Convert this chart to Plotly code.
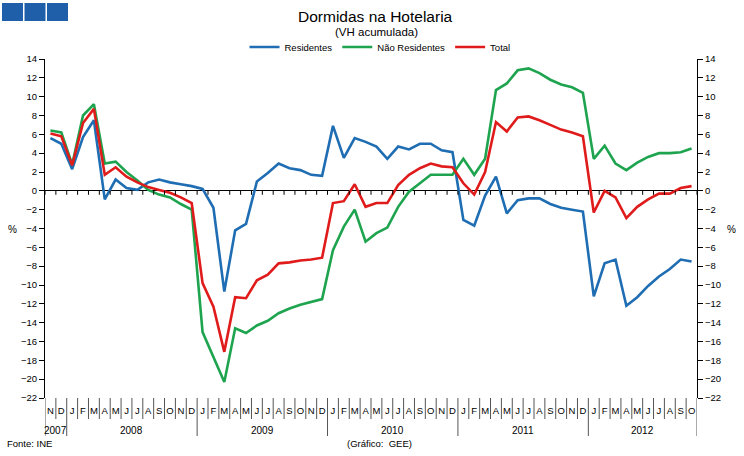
import plotly.graph_objects as go

# ---------------- data ----------------
months = ["N", "D"] + ["J", "F", "M", "A", "M", "J", "J", "A", "S", "O", "N", "D"] * 4 + \
         ["J", "F", "M", "A", "M", "J", "J", "A", "S", "O"]
years = [2007] * 2 + [2008] * 12 + [2009] * 12 + [2010] * 12 + [2011] * 12 + [2012] * 10
year_labels = [2007, 2008, 2009, 2010, 2011, 2012]

residentes = [5.6, 5.0, 2.3, 5.7, 7.5, -0.9, 1.2, 0.3, 0.1, 0.9, 1.2, 0.9, 0.7, 0.5,
              0.2, -1.8, -10.7, -4.2, -3.5, 1.0, 1.9, 2.9, 2.4, 2.2, 1.7, 1.6,
              6.9, 3.5, 5.6, 5.2, 4.7, 3.4, 4.7, 4.4, 5.0, 5.0, 4.3, 4.1,
              -3.1, -3.7, -0.5, 1.5, -2.4, -1.0, -0.8, -0.8, -1.4, -1.8, -2.0, -2.2,
              -11.2, -7.7, -7.3, -12.2, -11.3, -10.1, -9.1, -8.3, -7.3, -7.5]
nao_residentes = [6.4, 6.2, 2.8, 8.0, 9.2, 2.9, 3.1, 2.0, 1.1, 0.1, -0.4, -0.7, -1.4, -2.0,
                  -15.0, -17.7, -20.3, -14.6, -15.1, -14.3, -13.8, -13.0, -12.5, -12.1, -11.8, -11.5,
                  -6.3, -3.8, -2.0, -5.4, -4.5, -3.9, -1.7, -0.1, 0.8, 1.7, 1.7, 1.7,
                  3.4, 1.7, 3.4, 10.7, 11.4, 12.8, 13.0, 12.5, 11.8, 11.3, 11.0, 10.4,
                  3.4, 4.8, 2.9, 2.2, 3.0, 3.6, 4.0, 4.0, 4.1, 4.5]
total = [6.1, 5.8, 2.7, 7.2, 8.7, 1.7, 2.5, 1.5, 0.9, 0.4, 0.1, -0.2, -0.7, -1.3,
         -9.8, -12.3, -17.1, -11.3, -11.4, -9.5, -8.9, -7.7, -7.6, -7.4, -7.3, -7.1,
         -1.3, -1.1, 0.7, -1.7, -1.3, -1.3, 0.6, 1.7, 2.4, 2.9, 2.6, 2.5,
         0.8, -0.4, 2.0, 7.3, 6.3, 7.8, 7.9, 7.5, 7.0, 6.5, 6.2, 5.8,
         -2.3, 0.0, -0.7, -2.9, -1.7, -0.9, -0.3, -0.3, 0.3, 0.5]

series_names = ["Residentes", "Não Residentes", "Total"]
colors = ["#1f6db2", "#1ea44f", "#e01b1b"]

# ---------------- geometry helpers (pixel -> paper) ----------------
W, H = 744, 456
PL, PR, PT, PB = 45, 697, 59, 398
PW, PH = PR - PL, PB - PT


def px(xpix):
    return (xpix - PL) / PW


def py(ypix):
    return (PB - ypix) / PH


x = list(range(len(months)))

fig = go.Figure()
for name, vals, col in zip(series_names, [residentes, nao_residentes, total], colors):
    fig.add_trace(go.Scatter(x=x, y=vals, mode="lines", name=name,
                             line=dict(color=col, width=2.6), hoverinfo="x+y+name"))
# invisible trace to activate the right-hand axis
fig.add_trace(go.Scatter(x=x, y=total, yaxis="y2", mode="lines", line=dict(width=0),
                         opacity=0, showlegend=False, hoverinfo="skip"))

shapes = []
# small ticks on zero line at each month boundary
for b in range(len(months) + 1):
    shapes.append(dict(type="line", xref="x", yref="y", x0=b - 0.5, x1=b - 0.5,
                       y0=0, y1=-0.42, line=dict(color="#000", width=1)))
# month separators below the plot
for b in range(1, len(months)):
    is_year = years[b] != years[b - 1]
    shapes.append(dict(type="line", xref="x", yref="paper", x0=b - 0.5, x1=b - 0.5,
                       y0=0, y1=py(436) if is_year else py(419),
                       line=dict(color="#555", width=1)))
# outer edges
for b in (-0.5, len(months) - 0.5):
    shapes.append(dict(type="line", xref="x", yref="paper", x0=b, x1=b,
                       y0=0, y1=py(436), line=dict(color="#555", width=1)))

# logo squares (decoration)
for left in (2, 24.5, 47):
    shapes.append(dict(type="rect", xref="paper", yref="paper",
                       x0=px(left), x1=px(left + 21), y0=py(21), y1=py(3),
                       fillcolor="#1f5ea8", line=dict(width=0)))

annotations = [
    dict(text="Dormidas na Hotelaria", x=px(376), y=py(16), xref="paper", yref="paper",
         showarrow=False, font=dict(size=15.5, color="#000"), xanchor="center", yanchor="middle"),
    dict(text="(VH acumulada)", x=px(377), y=py(32), xref="paper", yref="paper",
         showarrow=False, font=dict(size=11.5, color="#000"), xanchor="center", yanchor="middle"),
    dict(text="%", x=px(12), y=py(229), xref="paper", yref="paper", showarrow=False,
         font=dict(size=10, color="#000"), xanchor="center", yanchor="middle"),
    dict(text="%", x=px(731), y=py(229), xref="paper", yref="paper", showarrow=False,
         font=dict(size=10, color="#000"), xanchor="center", yanchor="middle"),
    dict(text="Fonte: INE", x=px(5), y=py(444), xref="paper", yref="paper", showarrow=False,
         font=dict(size=9.5, color="#000"), xanchor="left", yanchor="middle"),
    dict(text="(Gráfico:  GEE)", x=px(379), y=py(444), xref="paper", yref="paper", showarrow=False,
         font=dict(size=9.5, color="#000"), xanchor="center", yanchor="middle"),
]
# year labels centred under their month groups
for yv in year_labels:
    idx = [i for i, yy in enumerate(years) if yy == yv]
    annotations.append(dict(text=str(yv), x=(idx[0] + idx[-1]) / 2, y=py(430),
                            xref="x", yref="paper", showarrow=False,
                            font=dict(size=10, color="#000"),
                            xanchor="center", yanchor="middle"))

yax = dict(range=[-22, 14], tick0=0, dtick=2, ticks="outside", ticklen=5, tickcolor="#000",
           showline=True, linecolor="#000", linewidth=1, showgrid=False,
           tickfont=dict(size=9.5, color="#000"), fixedrange=True)

fig.update_layout(
    width=W, height=H, template="none",
    paper_bgcolor="white", plot_bgcolor="white",
    margin=dict(l=PL, r=W - PR, t=PT, b=H - PB, pad=0),
    font=dict(family="Liberation Sans, Arial, sans-serif", color="#000"),
    xaxis=dict(range=[-0.5, len(months) - 0.5], tickmode="array", tickvals=x, ticktext=months,
               ticks="", showgrid=False, zeroline=False, showline=False,
               tickfont=dict(size=9.5, color="#000"), ticklabelstandoff=5, fixedrange=True),
    yaxis=dict(**yax, zeroline=True, zerolinecolor="#000", zerolinewidth=1),
    yaxis2=dict(**yax, overlaying="y", side="right", zeroline=False),
    legend=dict(orientation="h", x=px(380), xanchor="center", y=py(47), yanchor="middle",
                font=dict(size=9.5, color="#000"), itemwidth=30, bgcolor="rgba(0,0,0,0)",
                traceorder="normal"),
    shapes=shapes, annotations=annotations, showlegend=True,
)

fig.write_html("out.html", config={"displayModeBar": False},
               post_script="document.body.style.margin='0';document.body.style.overflow='hidden';")
